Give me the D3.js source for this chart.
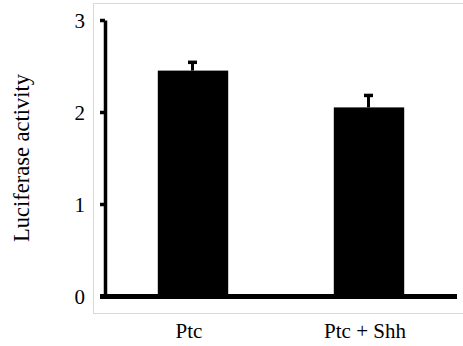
<!DOCTYPE html>
<html>
<head>
<meta charset="utf-8">
<script src="https://cdn.jsdelivr.net/npm/d3@7"></script>
<style>
  body { margin: 0; background: #fff; }
</style>
</head>
<body>
<svg id="chart"></svg>
<script>
const categories = ['Ptc', 'Ptc + Shh'];
const values = [2.45, 2.05];
const errors = [0.09, 0.13];
const yTicks = [0, 1, 2, 3];

const width = 463;
const height = 346;
const plotLeft = 105;
const plotRight = 457;
const plotTop = 20;
const plotBottom = 296;
const serif = "'Liberation Serif', 'Times New Roman', Times, serif";

const svg = d3.select('#chart').attr('width', width).attr('height', height)
  .attr('font-family', serif);

// light frame around the plot
svg.append('rect')
  .attr('x', 93.5).attr('y', 3.5)
  .attr('width', 380).attr('height', 310)
  .attr('fill', 'none').attr('stroke', '#d9d9d9').attr('stroke-width', 1);

const xScale = d3.scaleBand().domain(categories).range([plotLeft, plotRight])
  .paddingInner(0.6).paddingOuter(0.3);
const yScale = d3.scaleLinear().domain([0, 3]).range([plotBottom, plotTop]);

// bars
svg.selectAll('rect.bar').data(categories).enter().append('rect')
  .attr('class', 'bar')
  .attr('x', d => xScale(d))
  .attr('width', xScale.bandwidth())
  .attr('y', (d, i) => yScale(values[i]))
  .attr('height', (d, i) => yScale(0) - yScale(values[i]))
  .attr('fill', '#000');

// error bars (upper only)
const eb = svg.selectAll('g.err').data(categories).enter().append('g').attr('class', 'err');
eb.append('line')
  .attr('x1', d => xScale(d) + xScale.bandwidth() / 2 - 0.5)
  .attr('x2', d => xScale(d) + xScale.bandwidth() / 2 - 0.5)
  .attr('y1', (d, i) => yScale(values[i]))
  .attr('y2', (d, i) => yScale(values[i] + errors[i]))
  .attr('stroke', '#000').attr('stroke-width', 3);
eb.append('line')
  .attr('x1', d => xScale(d) + xScale.bandwidth() / 2 - 5)
  .attr('x2', d => xScale(d) + xScale.bandwidth() / 2 + 4)
  .attr('y1', (d, i) => yScale(values[i] + errors[i]))
  .attr('y2', (d, i) => yScale(values[i] + errors[i]))
  .attr('stroke', '#000').attr('stroke-width', 3.5);

// y axis
const yAxis = d3.axisLeft(yScale).tickValues(yTicks).tickFormat(d3.format('d'))
  .tickSize(5).tickSizeOuter(0).tickPadding(15);
const gy = svg.append('g').attr('transform', `translate(${plotLeft},0)`).call(yAxis)
  .attr('font-family', serif).attr('font-size', 21);
gy.select('.domain').attr('stroke', '#000').attr('stroke-width', 3.5);
gy.selectAll('.tick line').attr('stroke', '#000').attr('stroke-width', 3.5);
gy.selectAll('.tick text').attr('dy', '0.36em');

// x axis (thick baseline)
const xAxis = d3.axisBottom(xScale).tickSize(0).tickSizeOuter(0).tickPadding(27);
const gx = svg.append('g').attr('transform', `translate(0,${plotBottom + 0.5})`).call(xAxis)
  .attr('font-family', serif).attr('font-size', 21);
gx.select('.domain').attr('d', `M${plotLeft - 5},0H${plotRight}`).attr('stroke', '#000').attr('stroke-width', 5);
gx.selectAll('.tick text').attr('dx', -4);

// y title
svg.append('text')
  .attr('transform', `translate(29,${(plotTop + plotBottom) / 2}) rotate(-90)`)
  .attr('text-anchor', 'middle')
  .attr('font-family', serif)
  .attr('font-size', 22.5)
  .text('Luciferase activity');
</script>
</body>
</html>
